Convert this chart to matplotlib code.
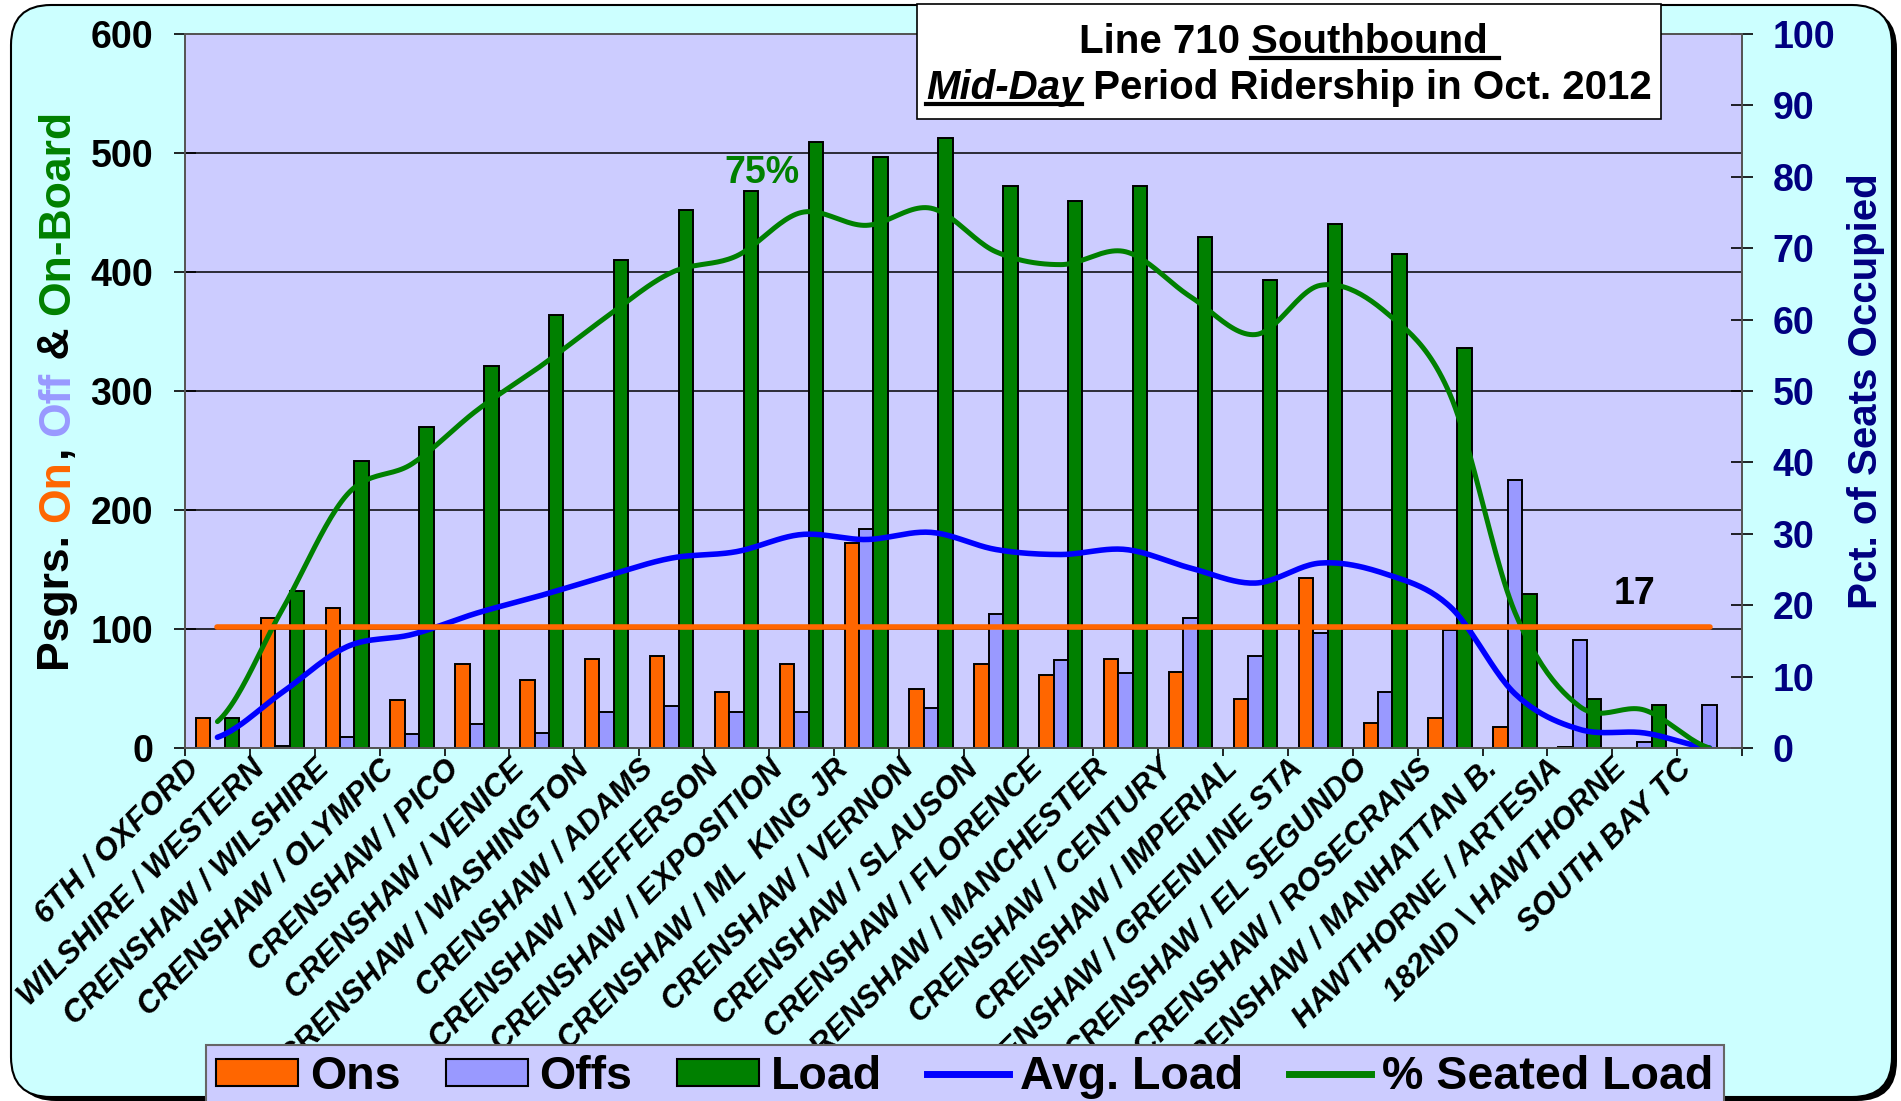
import matplotlib
matplotlib.use('Agg')
import matplotlib.pyplot as plt
import numpy as np
from matplotlib.patches import FancyBboxPatch, Rectangle, Patch
from matplotlib.lines import Line2D
from matplotlib.transforms import IdentityTransform, ScaledTranslation

plt.rcParams['font.family'] = ['Liberation Sans', 'DejaVu Sans']
plt.rcParams['font.weight'] = 'bold'

# data
stops = ['6TH / OXFORD', 'WILSHIRE / WESTERN', 'CRENSHAW / WILSHIRE', 'CRENSHAW / OLYMPIC',
         'CRENSHAW / PICO', 'CRENSHAW / VENICE', 'CRENSHAW / WASHINGTON', 'CRENSHAW / ADAMS',
         'CRENSHAW / JEFFERSON', 'CRENSHAW / EXPOSITION', 'CRENSHAW / ML  KING JR',
         'CRENSHAW / VERNON', 'CRENSHAW / SLAUSON', 'CRENSHAW / FLORENCE', 'CRENSHAW / MANCHESTER',
         'CRENSHAW / CENTURY', 'CRENSHAW / IMPERIAL', 'CRENSHAW / GREENLINE STA',
         'CRENSHAW / EL SEGUNDO', 'CRENSHAW / ROSECRANS', 'CRENSHAW / MANHATTAN B.',
         'HAWTHORNE / ARTESIA', '182ND \\ HAWTHORNE', 'SOUTH BAY TC']
ons = [25, 109, 118, 40, 71, 57, 75, 77, 47, 71, 172, 50, 71, 61, 75, 64, 41, 143, 21, 25, 18, 1, 0, 0]
offs = [0, 2, 9, 12, 20, 13, 30, 35, 30, 30, 184, 34, 113, 74, 63, 109, 77, 97, 47, 99, 225, 91, 5, 36]
load = [25, 132, 241, 270, 321, 364, 410, 452, 468, 509, 497, 513, 472, 460, 472, 429, 393, 440,
        415, 336, 129, 41, 36, 0]
avg_load = [1.5, 7.8, 14.2, 15.9, 18.9, 21.4, 24.1, 26.6, 27.5, 29.9, 29.2, 30.2, 27.8, 27.1,
            27.8, 25.2, 23.1, 25.9, 24.4, 19.8, 7.6, 2.6, 2.1, 0.0]
pct_seated = [3.7, 19.4, 35.5, 39.8, 47.3, 53.6, 60.4, 66.6, 68.9, 75.0, 73.2, 75.6, 69.5, 67.7,
              69.5, 63.2, 57.9, 64.8, 61.1, 49.5, 19.0, 5.8, 5.3, 0.0]
trips = 17

ON_C = '#FF6600'
OFF_C = '#9999FF'
LOAD_C = '#008000'
AVG_C = '#0000FF'
NAVY = '#000080'


def smooth(y, n=24):
    # Excel-style smoothed line (Catmull-Rom through the points)
    y = np.asarray(y, float)
    p = np.concatenate([[y[0]], y, [y[-1]]])
    xs, ys = [], []
    t = np.linspace(0, 1, n, endpoint=False)
    for i in range(len(y) - 1):
        p0, p1, p2, p3 = p[i], p[i + 1], p[i + 2], p[i + 3]
        ys.append(0.5 * (2 * p1 + (-p0 + p2) * t + (2 * p0 - 5 * p1 + 4 * p2 - p3) * t ** 2
                         + (-p0 + 3 * p1 - 3 * p2 + p3) * t ** 3))
        xs.append(i + t)
    xs.append([len(y) - 1])
    ys.append([y[-1]])
    return np.concatenate(xs), np.concatenate(ys)


fig = plt.figure(figsize=(19.01, 11.01), dpi=100)
fig.patch.set_facecolor('white')
px = IdentityTransform()

# rounded card with shadow
fig.add_artist(FancyBboxPatch((16, 0), 1881, 1092, boxstyle='round,pad=0,rounding_size=40',
                              transform=px, facecolor='black', edgecolor='none', zorder=-3))
fig.add_artist(FancyBboxPatch((11, 4), 1881, 1092, boxstyle='round,pad=0,rounding_size=40',
                              transform=px, facecolor='#CCFFFF', edgecolor='black', lw=1.5, zorder=-2))

ax = fig.add_axes([185 / 1901, 353 / 1101, 1557 / 1901, 714 / 1101])
x = np.arange(len(stops))
w = 0.222
ax.bar(x - w, ons, w, color=ON_C, edgecolor='black', lw=1.4, zorder=2)
ax.bar(x, offs, w, color=OFF_C, edgecolor='black', lw=1.4, zorder=2)
ax.bar(x + w, load, w, color=LOAD_C, edgecolor='black', lw=1.4, zorder=2)
ax.set_xlim(-0.5, len(stops) - 0.5)
ax.set_ylim(0, 600)
ax.set_facecolor('#CCCCFF')
ax.set_yticks(range(0, 601, 100))
ax.yaxis.grid(True, color='black', lw=1.1)
ax.set_axisbelow(True)
ax.tick_params(axis='y', direction='inout', length=16, width=1.2, pad=15, labelsize=27)
for s in ax.spines.values():
    s.set_color('#555555')
    s.set_linewidth(1.3)

ax.set_xticks(x)
ax.set_xticklabels(stops, rotation=45, ha='right', va='top', rotation_mode='anchor',
                   fontsize=22.5, fontstyle='italic')
ax.set_xticks(np.arange(-0.5, len(stops), 1), minor=True)
ax.tick_params(axis='x', which='major', length=0, pad=4)
ax.tick_params(axis='x', which='minor', length=6, width=1.2, direction='out')
shift = ScaledTranslation(-33 / 100, 0, fig.dpi_scale_trans)
for lab in ax.get_xticklabels():
    lab.set_transform(lab.get_transform() + shift)

ax2 = ax.twinx()
ax2.set_ylim(0, 100)
ax2.set_yticks(range(0, 101, 10))
ax2.tick_params(axis='y', direction='inout', length=16, width=1.2, pad=14, labelsize=27,
                labelcolor=NAVY)
for s in ax2.spines.values():
    s.set_color('#555555')
    s.set_linewidth(1.3)

sx, sy = smooth(avg_load)
ax2.plot(sx, sy, color=AVG_C, lw=4, solid_capstyle='round')
sx, sy = smooth(pct_seated)
ax2.plot(sx, sy, color=LOAD_C, lw=3.6, solid_capstyle='round')
ax2.plot([x[0], x[-1]], [trips, trips], color=ON_C, lw=4, solid_capstyle='round')
ax2.text(21.85, 21.6, str(trips), fontsize=27, ha='center', va='center', color='black')
ax2.text(8.4, 80.6, '75%', fontsize=27, ha='center', va='center', color=LOAD_C)

# legend
handles = [Patch(facecolor=ON_C, edgecolor='black', lw=1.5),
           Patch(facecolor=OFF_C, edgecolor='black', lw=1.5),
           Patch(facecolor=LOAD_C, edgecolor='black', lw=1.5),
           Line2D([], [], color=AVG_C, lw=5),
           Line2D([], [], color=LOAD_C, lw=5)]
leg = fig.legend(handles, ['Ons', 'Offs', 'Load', 'Avg. Load', '% Seated Load'],
                 loc='center', bbox_to_anchor=(965 / 1901, 24 / 1101), ncol=5,
                 fontsize=33.5, frameon=True, fancybox=False, facecolor='#CCCCFF',
                 edgecolor='#666666', framealpha=1, handlelength=1.76, handleheight=0.5,
                 handletextpad=0.25, columnspacing=0.97, borderpad=0.22)
leg.get_frame().set_linewidth(1.5)
leg.set_zorder(6)

# title box
fig.add_artist(Rectangle((917, 982), 744, 115, transform=px, facecolor='white',
                         edgecolor='black', lw=1.2, zorder=5))

renderer = fig.canvas.get_renderer()


def text_width(s, size, style):
    t = fig.text(0, 0, s + '|', fontsize=size, fontweight='bold', fontstyle=style)
    u = fig.text(0, 0, '|', fontsize=size, fontweight='bold', fontstyle=style)
    wd = t.get_window_extent(renderer).width - u.get_window_extent(renderer).width
    t.remove()
    u.remove()
    return wd


def run(pieces, xpos, ypos, size, rot=0):
    widths = [text_width(p[0], size, p[2]) for p in pieces]
    pos = (xpos if rot == 0 else ypos) - sum(widths) / 2
    for (s, c, st, ul), wd in zip(pieces, widths):
        if rot == 0:
            fig.text(pos, ypos, s, transform=px, color=c, fontsize=size, fontweight='bold',
                     fontstyle=st, ha='left', va='baseline', zorder=7)
            if ul:
                fig.add_artist(Line2D([pos, pos + wd], [ypos - 5, ypos - 5], transform=px,
                                      color='black', lw=3, zorder=7))
        else:
            fig.text(xpos, pos, s, transform=px, color=c, fontsize=size, fontweight='bold',
                     fontstyle=st, rotation=90, rotation_mode='anchor', ha='left',
                     va='baseline', zorder=7)
        pos += wd


run([('Line 710 ', 'black', 'normal', False), ('Southbound ', 'black', 'normal', True)],
    1289, 1048, 29)
run([('Mid-Day', 'black', 'italic', True),
     (' Period Ridership in Oct. 2012', 'black', 'normal', False)], 1289, 1002, 29)

run([('Psgrs. ', 'black', 'normal', False), ('On', ON_C, 'normal', False),
     (', ', 'black', 'normal', False), ('Off', OFF_C, 'normal', False),
     (' & ', 'black', 'normal', False), ('On-Board', LOAD_C, 'normal', False)],
    69, 711, 32, rot=90)
run([('Pct. of Seats Occupied', NAVY, 'normal', False)], 1877, 710, 29, rot=90)

fig.savefig('out.png', dpi=100, facecolor='white')
